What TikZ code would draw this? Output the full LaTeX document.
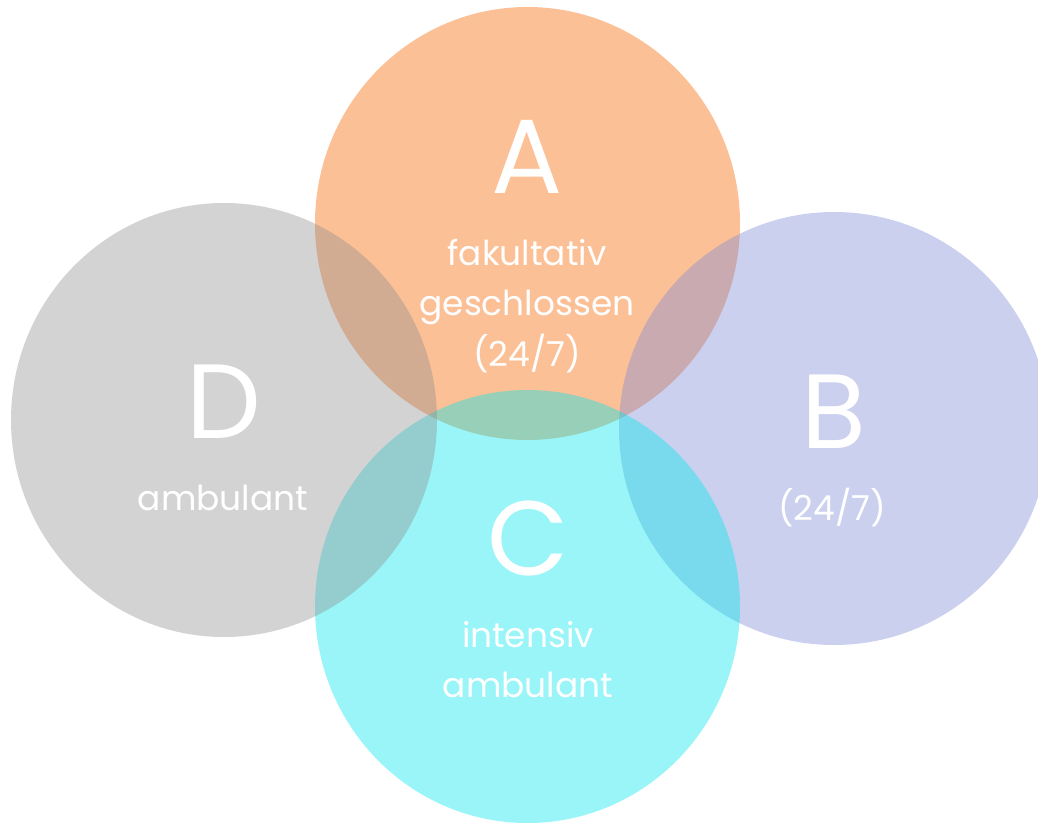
\documentclass[tikz,border=0pt]{standalone}
\usepackage{fontspec}
\setmainfont{Poppins}
\definecolor{colA}{RGB}{252,192,150}
\definecolor{colB}{RGB}{125,137,215}
\definecolor{colC}{RGB}{0,230,235}
\definecolor{colD}{RGB}{142,142,142}
\tikzset{
  big/.style={text=white, inner sep=0pt, anchor=base, font=\fontsize{106}{106}\selectfont},
  small/.style={text=white, inner sep=0pt, anchor=base, font=\fontsize{34.5}{34.5}\selectfont},
}
\begin{document}
\begin{tikzpicture}[x=1bp,y=-1bp]
\useasboundingbox (0,0) rectangle (1038,823);
\fill[colA] (527.5,223.5) ellipse [x radius=212.5, y radius=216.5];
\fill[colB, opacity=0.4] (834,428.5) ellipse [x radius=215, y radius=216.5];
\fill[colC, opacity=0.4] (527.5,606.5) ellipse [x radius=212.5, y radius=216.5];
\fill[colD, opacity=0.39] (224,420) ellipse [x radius=213, y radius=217];
% A
\node[big] (A) at (527,193) {A};
\node[small] (A1) at (527,265) {fakultativ};
\node[small] (A2) at (527,315) {geschlossen};
\node[small] (A3) at (527,366) {(24/7)};
% B
\node[big] (B) at (834,448) {B};
\node[small] (B1) at (832,520) {(24/7)};
% C
\node[big] (C) at (528,575) {C};
\node[small] (C1) at (528,647) {intensiv};
\node[small] (C2) at (528,697) {ambulant};
% D
\node[big] (D) at (224,438) {D};
\node[small] (D1) at (223,510) {ambulant};
\end{tikzpicture}
\end{document}
